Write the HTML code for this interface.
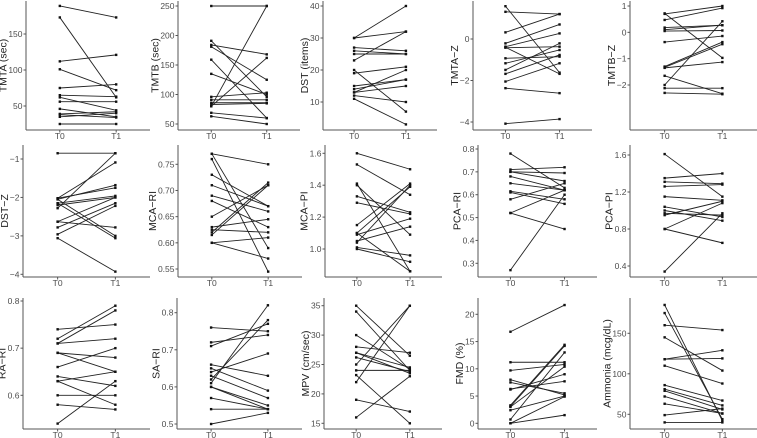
<!DOCTYPE html>
<html><head><meta charset="utf-8">
<style>
html,body{margin:0;padding:0;background:#fff;}
svg{display:block;font-family:"Liberation Sans",sans-serif;}
</style></head>
<body>
<svg id="chart" width="757" height="438" viewBox="0 0 757 438" xmlns="http://www.w3.org/2000/svg"></svg>
<script>
// ---- data (T0 and T1 paired values per panel) ----
const panelTitles = ["TMTA (sec)","TMTB (sec)","DST (items)","TMTA\u2212Z","TMTB\u2212Z","DST\u2212Z","MCA\u2212RI","MCA\u2212PI","PCA\u2212RI","PCA\u2212PI","RA\u2212RI","SA\u2212RI","MPV (cm/sec)","FMD (%)","Ammonia (mcg/dL)"];
const timeCategories = ["T0","T1"];
const tmtaT0 = [189,173,112,101,75,65,62,56,46,39,38,35,25];
const tmtaT1 = [173,62,121,72,80,63,44,56,35,42,34,40,25];
const tmtbT0 = [250,191,184,181,159,135,96,91,86,83,80,80,69,63];
const tmtbT1 = [250,96,168,125,60,100,103,91,86,85,250,162,60,50];
const dstT0 = [30,30,23,27,26,25,20,19,15,14,13,12,11,13];
const dstT1 = [40,32,32,26,25,25,7,21,17,17,20,10,3,15];
const tmtazT0 = [1.58,1.31,0.32,-0.21,-0.37,-0.42,-0.93,-1.17,-1.49,-1.68,-2.05,-2.37,-4.08,-0.4];
const tmtazT1 = [-1.62,1.2,1.2,0.7,0.27,-0.37,-0.85,-0.53,-0.21,-0.77,-1.17,-2.61,-3.86,-1.68];
const tmtbzT0 = [0.72,0.7,0.47,0.18,0.1,0.05,-0.37,-1.3,-1.33,-1.35,-1.65,-2.0,-2.12,-2.3];
const tmtbzT1 = [-0.97,1.0,0.92,0.27,0.27,0.07,-0.14,-0.37,-0.45,-1.13,-2.33,0.42,-2.12,-2.35];
const dstzT0 = [-0.85,-2.28,-2.02,-2.05,-2.02,-2.15,-2.2,-2.05,-2.15,-2.63,-2.63,-2.78,-2.96,-3.06];
const dstzT1 = [-0.85,-0.85,-1.09,-1.68,-1.75,-1.96,-2.0,-3.0,-3.06,-2.0,-2.78,-2.15,-2.22,-3.93];
const mcariT0 = [0.77,0.77,0.76,0.73,0.71,0.69,0.68,0.65,0.63,0.625,0.62,0.615,0.60,0.60];
const mcariT1 = [0.75,0.59,0.545,0.67,0.67,0.66,0.63,0.71,0.645,0.62,0.715,0.71,0.61,0.57];
const mcapiT0 = [1.6,1.53,1.41,1.40,1.33,1.29,1.15,1.10,1.09,1.05,1.04,1.01,1.0,1.10];
const mcapiT1 = [1.5,1.34,0.86,1.09,1.23,1.22,1.41,1.39,1.19,1.14,1.40,0.96,0.92,0.86];
const pcariT0 = [0.78,0.71,0.70,0.70,0.68,0.65,0.615,0.61,0.58,0.52,0.52,0.27];
const pcariT1 = [0.63,0.72,0.695,0.66,0.62,0.62,0.58,0.56,0.65,0.62,0.45,0.60];
const pcapiT0 = [1.61,1.35,1.31,1.26,1.15,1.04,1.0,0.97,0.95,0.80,0.80,0.34];
const pcapiT1 = [1.15,1.40,1.29,1.28,1.11,0.93,0.89,0.95,1.10,1.08,0.65,0.97];
const rariT0 = [0.74,0.72,0.71,0.71,0.69,0.69,0.66,0.64,0.63,0.63,0.60,0.58,0.54];
const rariT1 = [0.75,0.79,0.78,0.72,0.68,0.65,0.70,0.62,0.65,0.58,0.60,0.57,0.63];
const sariT0 = [0.76,0.72,0.71,0.66,0.65,0.64,0.63,0.62,0.61,0.60,0.60,0.57,0.54,0.50];
const sariT1 = [0.75,0.74,0.77,0.63,0.59,0.69,0.57,0.78,0.82,0.55,0.54,0.54,0.54,0.53];
const mpvT0 = [35,34,30,28,27,27,26.2,25,24,23.2,22,19,16];
const mpvT1 = [26.5,24,24.2,27,24.5,23.5,23.8,35,24,15,35,17,23];
const fmdT0 = [16.8,11.2,9.7,8.0,7.5,6.3,6.2,3.3,3.1,3.0,2.4,0.7,0,0];
const fmdT1 = [21.7,11.2,10.8,5.2,5.5,7.7,9.0,14.4,14.2,10.4,5.0,13.0,4.9,1.5];
const ammoniaT0 = [185,175,160,145,118,118,110,86,81,79,72,63,49,40];
const ammoniaT1 = [42,44,154,104,129,119,88,67,61,56,51,51,57,40];
const seriesT0 = [tmtaT0,tmtbT0,dstT0,tmtazT0,tmtbzT0,dstzT0,mcariT0,mcapiT0,pcariT0,pcapiT0,rariT0,sariT0,mpvT0,fmdT0,ammoniaT0];
const seriesT1 = [tmtaT1,tmtbT1,dstT1,tmtazT1,tmtbzT1,dstzT1,mcariT1,mcapiT1,pcariT1,pcapiT1,rariT1,sariT1,mpvT1,fmdT1,ammoniaT1];
const tickLabels = [
  ["50","100","150"],["50","100","150","200","250"],["10","20","30","40"],["-4","-2","0"],["-2","-1","0","1"],
  ["-4","-3","-2","-1"],["0.55","0.60","0.65","0.70","0.75"],["1.0","1.2","1.4","1.6"],["0.3","0.4","0.5","0.6","0.7","0.8"],["0.4","0.8","1.2","1.6"],
  ["0.6","0.7","0.8"],["0.5","0.6","0.7","0.8"],["15","20","25","30","35"],["0","5","10","15","20"],["50","100","150"]
];
// ---- layout / scale calibration (pixel geometry) ----
const geo = [
 {x0:26,x1:150,top:1,bot:130,cal:[150,34,50,106]},
 {x0:178,x1:300,top:1,bot:130,cal:[250,6,50,124]},
 {x0:323,x1:437,top:1,bot:130,cal:[40,6,10,102]},
 {x0:473,x1:592,top:1,bot:130,cal:[0,39,-4,122]},
 {x0:630,x1:757,top:1,bot:130,cal:[1,6,-2,85]},
 {x0:23,x1:150,top:145,bot:277,cal:[-1,159,-4,274.3]},
 {x0:178,x1:302,top:145,bot:277,cal:[0.75,164.3,0.55,269]},
 {x0:325,x1:442,top:145,bot:277,cal:[1.6,153.3,1.0,249]},
 {x0:478,x1:597,top:145,bot:277,cal:[0.8,149,0.3,263.3]},
 {x0:630,x1:757,top:145,bot:277,cal:[1.6,155,0.4,266]},
 {x0:23,x1:150,top:298,bot:429,cal:[0.8,301,0.6,395.3]},
 {x0:177,x1:302,top:298,bot:429,cal:[0.8,312.7,0.5,424]},
 {x0:324,x1:442,top:298,bot:429,cal:[35,305.7,15,423.3]},
 {x0:478,x1:597,top:298,bot:429,cal:[20,314.3,0,423.3]},
 {x0:630,x1:757,top:298,bot:429,cal:[150,333.3,50,414.3]}
];
const NS="http://www.w3.org/2000/svg";
const svg=document.getElementById('chart');
function mk(tag,attrs,parent){const e=document.createElementNS(NS,tag);for(const k in attrs)e.setAttribute(k,attrs[k]);parent.appendChild(e);return e;}
geo.forEach((g,p)=>{
  const grp=mk('g',{},svg);
  
  
  const [v1,p1,v2,p2]=g.cal;
  const y=v=>p1+(v-v1)*(p2-p1)/(v2-v1);
  const x=i=>g.x0+(g.x1-g.x0)*(0.6+i)/2.2;
  const ya=mk('line',{x1:g.x0,y1:g.top,x2:g.x0,y2:g.bot,stroke:'#555','stroke-width':1},grp);
  
  
  const xa=mk('line',{x1:g.x0,y1:g.bot,x2:g.x1,y2:g.bot,stroke:'#555','stroke-width':1},grp);
  
  
  let maxW=0;
  tickLabels[p].forEach(t=>{
    const yy=y(parseFloat(t));
    mk('line',{x1:g.x0-2.5,y1:yy,x2:g.x0,y2:yy,stroke:'#555','stroke-width':1},grp);
    const tx=mk('text',{x:g.x0-3.5,y:yy+3,'text-anchor':'end','font-size':8.5,fill:'#4d4d4d'},grp);
    tx.textContent=t.replace('-','\u2212');
    
    
    maxW=Math.max(maxW,tx.getComputedTextLength());
  });
  timeCategories.forEach((c,i)=>{
    mk('line',{x1:x(i),y1:g.bot,x2:x(i),y2:g.bot+2.5,stroke:'#555','stroke-width':1},grp);
    const tx=mk('text',{x:x(i),y:g.bot+9,'text-anchor':'middle','font-size':8.5,fill:'#4d4d4d'},grp);
    tx.textContent=c;
    
    
  });
  const cy=(g.top+g.bot)/2;
  const lx=g.x0-3.5-maxW-5;
  const lab=mk('text',{x:lx,y:cy,'text-anchor':'middle','font-size':10.5,fill:'#222',transform:`rotate(-90 ${lx} ${cy})`,'dominant-baseline':'central'},grp);
  lab.textContent=panelTitles[p];
  
  
  const a=seriesT0[p], b=seriesT1[p];
  a.forEach((v,i)=>{
    const ln=mk('line',{x1:x(0),y1:y(v),x2:x(1),y2:y(b[i]),stroke:'#222','stroke-width':0.9},grp);
    
    
    [[0,v],[1,b[i]]].forEach(([k,val])=>{
      const pt=mk('rect',{x:x(k)-1.2,y:y(val)-1.2,width:2.4,height:2.4,fill:'#111'},grp);
      
      
    });
  });
});
</script>
</body></html>
